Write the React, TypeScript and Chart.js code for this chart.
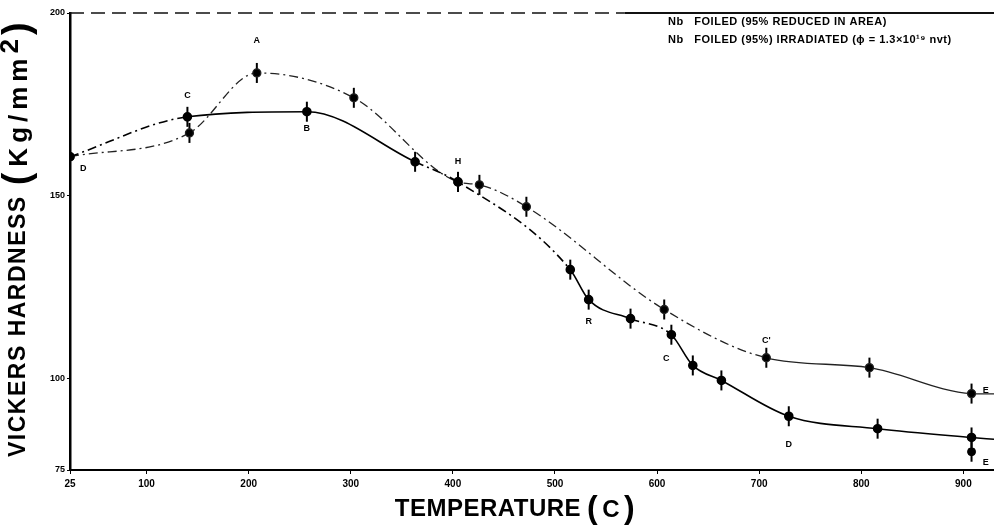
import { useEffect, useRef } from 'react';
import { Chart, registerables } from 'chart.js';

Chart.register(...registerables);

// ---- data (temperature °C, Vickers hardness kg/mm²) ----
const solidT = [25, 140, 257, 363, 405, 515, 533, 574, 614, 635, 663, 729, 816, 908, 930];
const solidHV = [160.7, 171.6, 173.0, 159.3, 153.8, 129.8, 121.6, 116.4, 112.0, 103.6, 99.5, 89.7, 86.3, 83.9, 83.4];
const irrT = [25, 142, 208, 303, 405, 426, 472, 607, 707, 808, 908, 930];
const irrHV = [160.7, 167.2, 183.6, 176.8, 153.8, 153.0, 147.0, 118.9, 105.7, 103.0, 95.9, 95.8];
const extraT = [908];
const extraHV = [80.0];

const xTicks = [25, 100, 200, 300, 400, 500, 600, 700, 800, 900];
const yTicks = [75, 100, 150, 200];

const legendLines = [
  'Nb   FOILED (95% REDUCED IN AREA)',
  'Nb   FOILED (95%) IRRADIATED (\u03D5 = 1.3\u00D710\u00B9\u2079 nvt)',
];

const yTitleMain = 'VICKERS HARDNESS';
const yTitleUnit = 'Kg/mm';
const yTitleSup = '2';
const xTitleMain = 'TEMPERATURE';
const xTitleUnit = 'C';

const markLabels = ['D', 'C', 'A', 'B', 'H', 'R', 'C', "C'", 'D', 'E', 'E'];
const markT = [38, 140, 208, 257, 405, 533, 609, 707, 729, 922, 922];
const markHV = [157.5, 177.5, 192.5, 168.5, 159.5, 115.5, 105.5, 110.5, 82.0, 96.8, 77.0];

const FONT = '"Liberation Sans", Arial, Helvetica, sans-serif';
const DASH = [9, 4, 2, 4];

const pts = (xs: number[], ys: number[]) => xs.map((x, i) => ({ x, y: ys[i] }));

const solidRanges = [[130, 265], [505, 545], [605, 645], [655, 1000]];
const irrSolidFrom = 700;

export default function App() {
  const ref = useRef<HTMLCanvasElement | null>(null);

  useEffect(() => {
    if (!ref.current) return;

    const decor = {
      id: 'decor',
      afterDraw(chart: any) {
        const { ctx, chartArea, scales } = chart;
        const xs = scales.x;
        const ys = scales.y;
        ctx.save();
        // top frame line
        ctx.strokeStyle = '#111';
        ctx.lineWidth = 1.5;
        const split = chartArea.left + (chartArea.right - chartArea.left) * 0.6;
        ctx.setLineDash([14, 7]);
        ctx.beginPath();
        ctx.moveTo(chartArea.left, chartArea.top);
        ctx.lineTo(split, chartArea.top);
        ctx.stroke();
        ctx.setLineDash([]);
        ctx.lineWidth = 2;
        ctx.beginPath();
        ctx.moveTo(split, chartArea.top);
        ctx.lineTo(chartArea.right, chartArea.top);
        ctx.stroke();

        ctx.fillStyle = '#000';
        ctx.textBaseline = 'middle';

        // legend text
        ctx.font = `bold 11px ${FONT}`;
        ctx.textAlign = 'left';
        (ctx as any).letterSpacing = '0.5px';
        legendLines.forEach((t, i) => ctx.fillText(t, 668, 22 + i * 18));
        (ctx as any).letterSpacing = '0px';

        // point letters
        ctx.font = `bold 9px ${FONT}`;
        ctx.textAlign = 'center';
        markLabels.forEach((t, i) => {
          ctx.fillText(t, xs.getPixelForValue(markT[i]), ys.getPixelForValue(markHV[i]));
        });

        // y axis title (rotated)
        ctx.save();
        ctx.translate(19, 457);
        ctx.rotate(-Math.PI / 2);
        ctx.textAlign = 'left';
        let px = 0;
        const put = (t: string, size: number, dy = 0, gap = 0) => {
          ctx.font = `bold ${size}px ${FONT}`;
          ctx.fillText(t, px, dy);
          px += ctx.measureText(t).width + gap;
        };
        (ctx as any).letterSpacing = '1.5px';
        put(yTitleMain, 23, 0, 10);
        (ctx as any).letterSpacing = '0px';
        put('(', 38, 0, 6);
        (ctx as any).letterSpacing = '5px';
        put(yTitleUnit, 26, 1, 0);
        (ctx as any).letterSpacing = '0px';
        put(yTitleSup, 26, -8, 4);
        put(')', 38, 0, 0);
        ctx.restore();

        // x axis title
        ctx.save();
        ctx.textAlign = 'left';
        (ctx as any).letterSpacing = '0.5px';
        ctx.font = `bold 24px ${FONT}`;
        const w1 = ctx.measureText(xTitleMain).width;
        ctx.font = `bold 32px ${FONT}`;
        const wp = ctx.measureText('(').width;
        ctx.font = `bold 24px ${FONT}`;
        const wc = ctx.measureText(xTitleUnit).width;
        const total = w1 + 6 + wp * 2 + wc + 8;
        let x = 515 - total / 2;
        const y = 509;
        ctx.font = `bold 24px ${FONT}`;
        ctx.fillText(xTitleMain, x, y);
        x += w1 + 6;
        ctx.font = `bold 32px ${FONT}`;
        ctx.fillText('(', x, y);
        x += wp + 4;
        ctx.font = `bold 24px ${FONT}`;
        ctx.fillText(xTitleUnit, x, y + 1);
        x += wc + 4;
        ctx.font = `bold 32px ${FONT}`;
        ctx.fillText(')', x, y);
        ctx.restore();

        ctx.restore();
      },
    };

    const inSolid = (x: number) => solidRanges.some(([a, b]) => x >= a && x < b);

    const chart = new Chart(ref.current, {
      type: 'line',
      data: {
        datasets: [
          {
            label: 'Nb foiled (95% reduced in area)',
            data: pts(solidT, solidHV),
            borderColor: '#000',
            backgroundColor: '#000',
            borderWidth: 1.6,
            pointRadius: (c: any) => (c.dataIndex === solidT.length - 1 ? 0 : 4),
            cubicInterpolationMode: 'monotone',
            segment: {
              borderDash: (c: any) => (inSolid(c.p0.parsed.x) ? [] : DASH),
            },
          },
          {
            label: 'Nb foiled (95%) irradiated',
            data: pts(irrT, irrHV),
            borderColor: '#222',
            backgroundColor: '#000',
            borderWidth: 1.3,
            pointRadius: (c: any) => (c.dataIndex === irrT.length - 1 ? 0 : 4),
            cubicInterpolationMode: 'monotone',
            segment: {
              borderDash: (c: any) => (c.p0.parsed.x >= irrSolidFrom ? [] : DASH),
            },
          },
          {
            label: 'extra',
            data: pts(extraT, extraHV),
            showLine: false,
            backgroundColor: '#000',
            borderColor: '#000',
            pointRadius: 4,
          },
          {
            label: 'error bars',
            data: [
              ...pts(solidT.slice(0, -1), solidHV.slice(0, -1)),
              ...pts(irrT.slice(1, -1), irrHV.slice(1, -1)),
              ...pts(extraT, extraHV),
            ],
            showLine: false,
            pointStyle: 'line',
            rotation: 90,
            pointRadius: 10,
            borderColor: '#000',
            borderWidth: 2,
          },
        ],
      },
      options: {
        animation: false,
        responsive: false,
        layout: { autoPadding: false, padding: { top: 13, right: 0, left: 0, bottom: 0 } },
        plugins: { legend: { display: false }, tooltip: { enabled: false } },
        scales: {
          x: {
            type: 'linear',
            min: 25,
            max: 930,
            afterBuildTicks: (s: any) => {
              s.ticks = xTicks.map((v) => ({ value: v }));
            },
            afterFit: (s: any) => {
              s.height = 61;
              s.paddingRight = 0;
              s.paddingLeft = 0;
            },
            grid: { display: true, drawOnChartArea: false, tickLength: 4, color: '#000' },
            border: { color: '#000', width: 2 },
            ticks: {
              color: '#000',
              font: { family: FONT, size: 10, weight: 'bold' },
              padding: 4,
              maxRotation: 0,
              autoSkip: false,
            },
            title: { display: false },
          },
          y: {
            type: 'linear',
            min: 75,
            max: 200,
            afterBuildTicks: (s: any) => {
              s.ticks = yTicks.map((v) => ({ value: v }));
            },
            afterFit: (s: any) => {
              s.width = 70;
            },
            grid: { display: true, drawOnChartArea: false, tickLength: 3, color: '#000' },
            border: { color: '#000', width: 2.5 },
            ticks: {
              color: '#000',
              font: { family: FONT, size: 9, weight: 'bold' },
              padding: 2,
            },
            title: { display: false },
          },
        },
      },
      plugins: [decor],
    } as any);

    return () => chart.destroy();
  }, []);

  return (
    <div style={{ position: 'absolute', left: 0, top: 0, width: 994, height: 531, background: '#fff' }}>
      <canvas ref={ref} width={994} height={531} style={{ display: 'block' }} />
    </div>
  );
}
